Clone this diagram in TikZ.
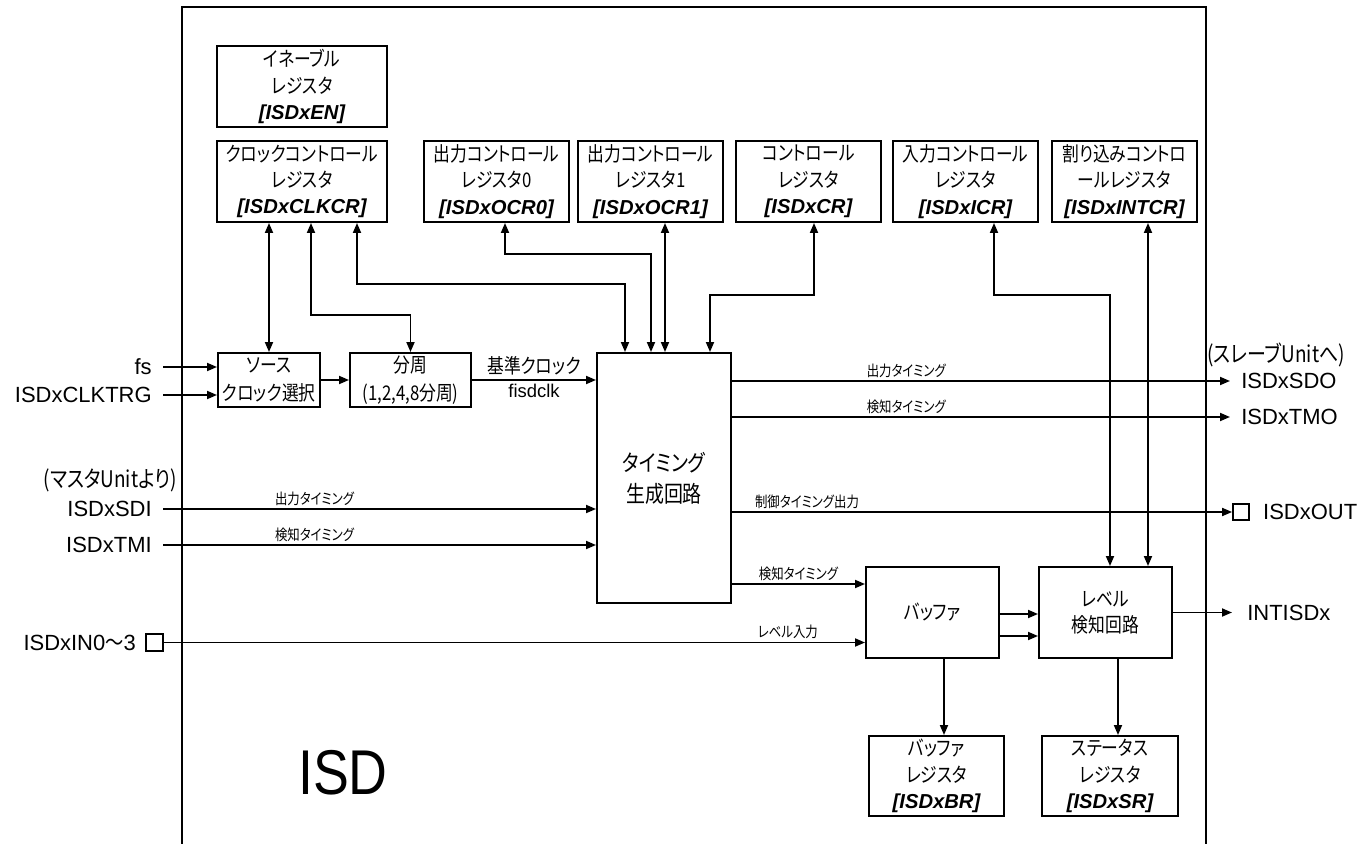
\documentclass[tikz,border=0pt]{standalone}
\usepackage{fontspec}
\usepackage{tikz}
\setmainfont{Noto Sans CJK JP}[RawFeature=+palt, FakeStretch=0.83]
\newfontfamily\latfont{Liberation Sans}
\newfontfamily\isdfont{Liberation Sans}[FakeStretch=0.85]
\usetikzlibrary{arrows.meta,positioning,calc}
\newcommand{\regnm}[1]{{\latfont\bfseries\itshape[#1]}}
\tikzset{
  >={Triangle[length=2mm,width=1.6mm]},
  blk/.style={draw, line width=1.1pt, align=center, inner sep=0pt,
              font=\fontsize{11.5}{15}\selectfont},
  regbox/.style={blk, minimum height=16.2mm},
  wire/.style={line width=1pt},
  sig/.style={font=\fontsize{8.5}{10}\selectfont, inner sep=1.5pt},
  pinl/.style={anchor=east, inner xsep=2.2mm, inner ysep=0pt,
               font=\latfont\fontsize{12.5}{15}\selectfont},
  pinr/.style={pinl, anchor=west},
  pad/.style={draw, line width=1pt, minimum size=3.2mm, inner sep=0pt}
}

\begin{document}
\begin{tikzpicture}[x=0.2mm, y=-0.2mm]
\useasboundingbox (0,0) rectangle (1365,844);
\draw[line width=1.1pt] (182,844) |- (1206,7) -- (1206,844);

\node[regbox, minimum width=34mm] (en) at (302,86.5) {イネーブル\\レジスタ\\\regnm{ISDxEN}};
\node[regbox, minimum width=34mm] (clkcr) at (302,181.5) {クロックコントロール\\レジスタ\\\regnm{ISDxCLKCR}};
\node[regbox, minimum width=29mm] (ocr0) at (496.5,181.5) {出力コントロール\\レジスタ0\\\regnm{ISDxOCR0}};
\node[regbox, minimum width=29mm] (ocr1) at (650.5,181.5) {出力コントロール\\レジスタ1\\\regnm{ISDxOCR1}};
\node[regbox, minimum width=29mm] (cr) at (808.5,181.5) {コントロール\\レジスタ\\\regnm{ISDxCR}};
\node[regbox, minimum width=29mm] (icr) at (965.5,181.5) {入力コントロール\\レジスタ\\\regnm{ISDxICR}};
\node[regbox, minimum width=29mm] (intcr) at (1124.5,181.5) {割り込みコントロ\\ールレジスタ\\\regnm{ISDxINTCR}};

\node[blk, minimum width=20.4mm, minimum height=10.8mm, font=\fontsize{11.5}{16}\selectfont] (src) at (269,380) {ソース\\クロック選択};
\node[blk, minimum width=24.2mm, minimum height=10.8mm, font=\fontsize{11.5}{16}\selectfont] (div) at (410.5,380) {分周\\(1,2,4,8分周)};
\node[blk, minimum width=26.8mm, minimum height=50mm, font=\fontsize{13}{17.6}\selectfont] (tmg) at (664,478) {タイミング\\生成回路};
\node[blk, minimum width=26.6mm, minimum height=18.2mm] (buf) at (932.5,612.5) {バッファ};
\node[blk, minimum width=26.6mm, minimum height=18.2mm] (lvl) at (1105.5,612.5) {レベル\\検知回路};
\node[regbox, minimum width=27mm, minimum height=16mm] (bufr) at (936.5,776) {バッファ\\レジスタ\\\regnm{ISDxBR}};
\node[regbox, minimum width=27.2mm, minimum height=16mm] (str) at (1110,776) {ステータス\\レジスタ\\\regnm{ISDxSR}};

\node[font=\isdfont\fontsize{36}{40}\selectfont, inner sep=0pt] (isd) at (343,773) {ISD};

\node[pinl] (fs) at (163,367) {fs};
\node[pinl] (trg) at (163,395) {ISDxCLKTRG};
\node[anchor=east, inner sep=0pt, font=\fontsize{13}{15}\selectfont] (mst) at (177,480) {(マスタUnitより)};
\node[pinl] (sdi) at (163,509) {ISDxSDI};
\node[pinl] (tmi) at (163,545) {ISDxTMI};
\node[pad, minimum size=3.4mm] (insq) at (154.5,642.5) {};
\node[pinl, inner xsep=1.8mm] (in) at (insq.west) {ISDxIN0{\rmfamily 〜}3};

\node[anchor=west, inner sep=0pt, font=\fontsize{13}{15}\selectfont] (slv) at (1207,355) {(スレーブUnitへ)};
\node[pinr] (sdo) at (1230,381) {ISDxSDO};
\node[pinr] (tmo) at (1230,417) {ISDxTMO};
\node[pad] (outsq) at (1241,512) {};
\node[pinr, inner xsep=2.6mm] (out) at (outsq.east) {ISDxOUT};
\node[pinr, inner xsep=3mm] (int) at (1232,612.5) {INTISDx};

\draw[wire,->] (fs.east) -- (src.west |- fs.east);
\draw[wire,->] (trg.east) -- (src.west |- trg.east);
\draw[wire,->] (src) -- (div);
\draw[wire,->] (div) -- (div -| tmg.west)
  node[midway, above, inner sep=2pt, font=\fontsize{11.5}{12}\selectfont] {基準クロック}
  node[midway, below, inner sep=2pt, font=\latfont\fontsize{10.5}{12}\selectfont] {fisdclk};
\draw[wire,->] (sdi.east) -- (tmg.west |- sdi.east) node[sig, pos=0.35, above] {出力タイミング};
\draw[wire,->] (tmi.east) -- (tmg.west |- tmi.east) node[sig, pos=0.35, above] {検知タイミング};

\draw[wire,->] (tmg.east |- sdo.west) -- (sdo.west) node[sig, pos=0.35, above] {出力タイミング};
\draw[wire,->] (tmg.east |- tmo.west) -- (tmo.west) node[sig, pos=0.35, above] {検知タイミング};
\draw[wire,->] (tmg.east |- outsq.west) -- (outsq.west) node[sig, pos=0.15, above] {制御タイミング出力};

\coordinate (bt) at ([yshift=5.7mm]buf.west);
\draw[wire,->] (tmg.east |- bt) -- (bt) node[sig, midway, above] {検知タイミング};
\draw[wire,->] (insq.east) -- (buf.west |- insq.east) node[sig, pos=0.89, above] {レベル入力};
\draw[wire,->] ([yshift=-0.3mm]buf.east) -- ([yshift=-0.3mm]lvl.west);
\draw[wire,->] ([yshift=-4.7mm]buf.east) -- ([yshift=-4.7mm]lvl.west);
\draw[wire,->] (lvl.east) -- (int.west);
\draw[wire,->] ([xshift=2.3mm]buf.south) -- ([xshift=2.3mm]buf.south |- bufr.north);
\draw[wire,->] ([xshift=2.5mm]lvl.south) -- ([xshift=2.5mm]lvl.south |- str.north);

\draw[wire,<->] (clkcr.south -| src.north) -- (src.north);
\draw[wire,<->] ([xshift=1.8mm]clkcr.south) -- ++(0,92) -| (div.north);
\draw[wire,<->] ([xshift=11mm]clkcr.south) -- ++(0,61) -| ([xshift=-7.8mm]tmg.north);
\draw[wire,<->] ([xshift=1.7mm]ocr0.south) -- ++(0,31) -| ([xshift=-2.6mm]tmg.north);
\draw[wire,<->] ([xshift=2.9mm]ocr1.south) -- ([xshift=2.9mm]ocr1.south |- tmg.north);
\draw[wire,<->] ([xshift=1.1mm]cr.south) -- ++(0,72) -| ([xshift=9.2mm]tmg.north);
\draw[wire,<->] ([xshift=5.7mm]icr.south) -- ++(0,72) -| ([xshift=0.9mm]lvl.north);
\draw[wire,<->] ([xshift=4.7mm]intcr.south) -- ([xshift=4.7mm]intcr.south |- lvl.north);
\end{tikzpicture}
\end{document}
